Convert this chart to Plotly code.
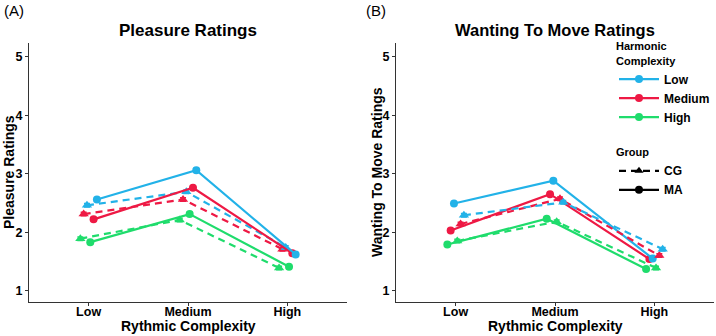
import plotly.graph_objects as go

# ---------------- data ----------------
rhythm_levels = ["Low", "Medium", "High"]
harmonic_levels = ["Low", "Medium", "High"]
groups = ["CG", "MA"]

# Pleasure ratings (panel A), values per rhythmic complexity Low/Medium/High
pleasure_CG_low = [2.46, 2.69, 1.74]
pleasure_CG_medium = [2.31, 2.56, 1.71]
pleasure_CG_high = [1.89, 2.21, 1.39]
pleasure_MA_low = [2.56, 3.06, 1.62]
pleasure_MA_medium = [2.22, 2.76, 1.64]
pleasure_MA_high = [1.83, 2.31, 1.41]

# Wanting to move ratings (panel B)
move_CG_low = [2.29, 2.51, 1.71]
move_CG_medium = [2.14, 2.57, 1.60]
move_CG_high = [1.85, 2.18, 1.39]
move_MA_low = [2.49, 2.88, 1.55]
move_MA_medium = [2.03, 2.65, 1.54]
move_MA_high = [1.79, 2.23, 1.37]

err = 0.03

colors = {"Low": "#22B2E8", "Medium": "#EE1944", "High": "#1FDC6C"}
dashes = {"CG": "7px,5px", "MA": "solid"}
symbols = {"CG": "triangle-up", "MA": "circle"}

pleasure = {
    ("CG", "Low"): pleasure_CG_low, ("CG", "Medium"): pleasure_CG_medium, ("CG", "High"): pleasure_CG_high,
    ("MA", "Low"): pleasure_MA_low, ("MA", "Medium"): pleasure_MA_medium, ("MA", "High"): pleasure_MA_high,
}
move = {
    ("CG", "Low"): move_CG_low, ("CG", "Medium"): move_CG_medium, ("CG", "High"): move_CG_high,
    ("MA", "Low"): move_MA_low, ("MA", "Medium"): move_MA_medium, ("MA", "High"): move_MA_high,
}

# dodge order (left to right) per panel
order_A = [("CG", "High"), ("CG", "Medium"), ("CG", "Low"), ("MA", "High"), ("MA", "Medium"), ("MA", "Low")]
order_B = [("MA", "High"), ("MA", "Medium"), ("MA", "Low"), ("CG", "High"), ("CG", "Medium"), ("CG", "Low")]
dodge = 0.2

W, H = 716, 336
def px(x): return x / W
def py(y): return 1 - y / H

fig = go.Figure()

def add_panel(data, order, xa, ya):
    n = len(order)
    for i, (g, h) in enumerate(order):
        off = (i - (n - 1) / 2) * dodge / n
        xs = [k + off for k in range(len(rhythm_levels))]
        fig.add_trace(go.Scatter(
            x=xs, y=data[(g, h)], xaxis=xa, yaxis=ya, mode="lines+markers",
            line=dict(color=colors[h], width=2.2, dash=dashes[g]),
            marker=dict(symbol=symbols[g], size=8 if g == "MA" else 9, color=colors[h]),
            error_y=dict(type="constant", value=err, color=colors[h], thickness=1.5, width=3),
            showlegend=False, hoverinfo="skip"))

add_panel(pleasure, order_A, "x", "y")
add_panel(move, order_B, "x2", "y2")

# legend entries
for h in harmonic_levels:
    fig.add_trace(go.Scatter(x=[None], y=[None], mode="lines+markers", name=h,
                             line=dict(color=colors[h], width=2.2), marker=dict(symbol="circle", size=8, color=colors[h]),
                             legend="legend"))
for g in groups:
    fig.add_trace(go.Scatter(x=[None], y=[None], mode="lines+markers", name=g,
                             line=dict(color="black", width=2.2, dash=dashes[g]),
                             marker=dict(symbol=symbols[g], size=8, color="black"),
                             legend="legend2"))

xdom_A = [px(29), px(347)]
xdom_B = [px(396), px(714)]
ydom = [py(302), py(43)]
xrange = [-0.6, 2.6]
yrange = [0.807, 5.234]

axcommon = dict(showgrid=False, zeroline=False, showline=True, linecolor="#333333", linewidth=1.1,
                ticks="outside", ticklen=3, tickcolor="#333333",
                tickfont=dict(family="Liberation Sans", size=12.5, color="black", weight="bold"))

fig.update_layout(
    width=W, height=H, margin=dict(l=0, r=0, t=0, b=0),
    paper_bgcolor="white", plot_bgcolor="white",
    font=dict(family="Liberation Sans", color="black"),
    xaxis=dict(domain=xdom_A, range=xrange, tickvals=[0, 1, 2], ticktext=rhythm_levels, anchor="y",
               ticklabelstandoff=-5, **axcommon),
    yaxis=dict(domain=ydom, range=yrange, tickvals=[1, 2, 3, 4, 5], anchor="x", **axcommon),
    xaxis2=dict(domain=xdom_B, range=xrange, tickvals=[0, 1, 2], ticktext=rhythm_levels, anchor="y2",
                ticklabelstandoff=-5, **axcommon),
    yaxis2=dict(domain=ydom, range=yrange, tickvals=[1, 2, 3, 4, 5], anchor="x2", **axcommon),
    legend=dict(x=px(614), y=py(36), xanchor="left", yanchor="top", bgcolor="rgba(0,0,0,0)",
                title=dict(text="Harmonic<br>Complexity", font=dict(size=11, weight="bold")),
                font=dict(size=12, weight="bold"), itemwidth=40, tracegroupgap=0),
    legend2=dict(x=px(614), y=py(142), xanchor="left", yanchor="top", bgcolor="rgba(0,0,0,0)",
                 title=dict(text="Group", font=dict(size=11, weight="bold")),
                 font=dict(size=12, weight="bold"), itemwidth=40, tracegroupgap=0),
)

ann = []
def text(x, y, s, size, bold=True, angle=0, xanchor="center"):
    ann.append(dict(x=px(x), y=py(y), xref="paper", yref="paper", text=s, showarrow=False,
                    xanchor=xanchor, yanchor="middle", textangle=angle,
                    font=dict(size=size, color="black", family="Liberation Sans", weight="bold" if bold else "normal")))

text(2, 11, "(A)", 15, bold=False, xanchor="left")
text(364, 11, "(B)", 15, bold=False, xanchor="left")
text(188, 30, "Pleasure Ratings", 17)
text(555, 30, "Wanting To Move Ratings", 16.5)
text(188, 326, "Rythmic Complexity", 14)
text(555, 326, "Rythmic Complexity", 14)
text(9, 172, "Pleasure Ratings", 14, angle=-90)
text(377, 172, "Wanting To Move Ratings", 14, angle=-90)
fig.update_layout(annotations=ann)

# remove the page's default body margin so the figure fills the window exactly
fig.write_html("out.html", config={"displayModeBar": False},
               post_script="document.body.style.margin='0';")
